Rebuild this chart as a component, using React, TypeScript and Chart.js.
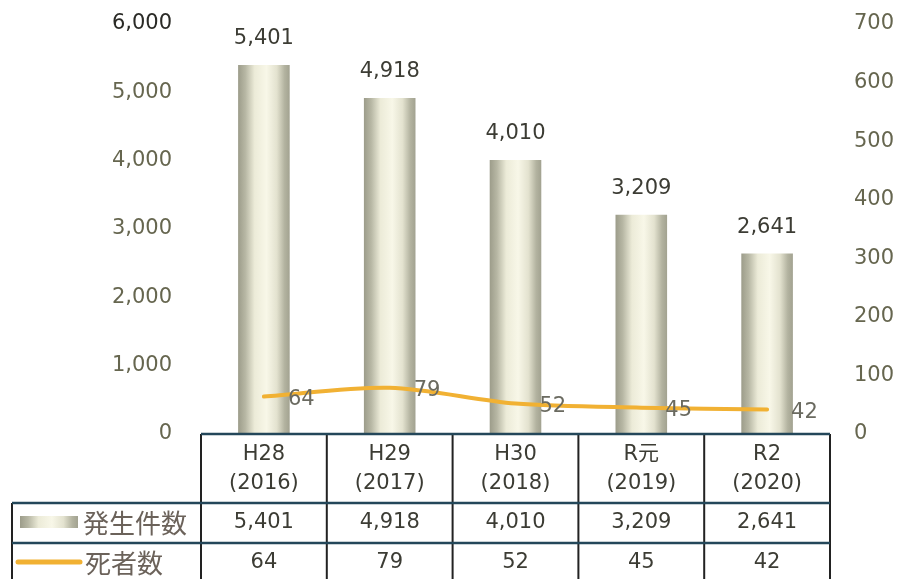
import { useEffect, useRef } from 'react';
import { Chart, registerables } from 'chart.js';

Chart.register(...registerables);

// ---- data ----
const categoryEra = ['H28', 'H29', 'H30', 'R元', 'R2'];
const categoryYear = ['(2016)', '(2017)', '(2018)', '(2019)', '(2020)'];
const incidents = [5401, 4918, 4010, 3209, 2641];
const deaths = [64, 79, 52, 45, 42];
const seriesNames = ['発生件数', '死者数'];
const leftAxis = { min: 0, max: 6000, step: 1000 };
const rightAxis = { min: 0, max: 700, step: 100 };

const FONT = '"DejaVu Sans", "Noto Sans CJK JP", sans-serif';
const CJK = '"Noto Sans CJK JP", sans-serif';
const BAR_FRAC = 0.41;
const LINE_COLOR = '#f1b133';

const fmt = (v: number) => v.toLocaleString('en-US');

function barGradient(ctx: CanvasRenderingContext2D, x0: number, x1: number) {
  const g = ctx.createLinearGradient(x0, 0, x1, 0);
  g.addColorStop(0, '#9c9c8a');
  g.addColorStop(0.14, '#b7b7a4');
  g.addColorStop(0.32, '#ecebd8');
  g.addColorStop(0.55, '#f8f7e8');
  g.addColorStop(0.75, '#e3e2cf');
  g.addColorStop(0.9, '#b3b3a0');
  g.addColorStop(1, '#a2a290');
  return g;
}

const labelsPlugin = {
  id: 'valueLabels',
  afterDatasetsDraw(chart: any) {
    const ctx = chart.ctx as CanvasRenderingContext2D;
    ctx.save();
    ctx.font = `21px ${FONT}`;
    ctx.textBaseline = 'middle';
    const barMeta = chart.getDatasetMeta(0);
    ctx.textAlign = 'center';
    ctx.fillStyle = '#3c3c34';
    barMeta.data.forEach((el: any, i: number) => {
      ctx.fillText(fmt(incidents[i]), el.x, el.y - 26);
    });
    const lineMeta = chart.getDatasetMeta(1);
    ctx.textAlign = 'left';
    ctx.fillStyle = '#6a6a60';
    lineMeta.data.forEach((el: any, i: number) => {
      ctx.fillText(String(deaths[i]), el.x + 24, el.y + 3);
    });
    ctx.restore();
  },
};

const tablePlugin = {
  id: 'dataTable',
  afterDraw(chart: any) {
    const ctx = chart.ctx as CanvasRenderingContext2D;
    const area = chart.chartArea;
    const xs = chart.scales.x;
    const n = categoryEra.length;
    const band = (area.right - area.left) / n;
    const top = area.bottom;
    const headerBottom = top + 69;
    const row1Bottom = headerBottom + 40;
    const bottom = chart.height + 5;
    const legendLeft = 12;

    ctx.save();
    // vertical lines
    ctx.strokeStyle = '#222';
    ctx.lineWidth = 2;
    ctx.beginPath();
    for (let i = 0; i <= n; i++) {
      const x = area.left + band * i;
      ctx.moveTo(x, top);
      ctx.lineTo(x, bottom);
    }
    ctx.moveTo(legendLeft, headerBottom);
    ctx.lineTo(legendLeft, bottom);
    ctx.stroke();
    // horizontal lines
    ctx.strokeStyle = '#24475a';
    ctx.lineWidth = 2.5;
    ctx.beginPath();
    ctx.moveTo(area.left, top);
    ctx.lineTo(area.right, top);
    ctx.moveTo(legendLeft, headerBottom);
    ctx.lineTo(area.right, headerBottom);
    ctx.moveTo(legendLeft, row1Bottom);
    ctx.lineTo(area.right, row1Bottom);
    ctx.stroke();

    // header + values
    ctx.font = `21px ${FONT}`;
    ctx.textAlign = 'center';
    ctx.textBaseline = 'middle';
    ctx.fillStyle = '#3c3c34';
    for (let i = 0; i < n; i++) {
      const cx = xs.getPixelForValue(i);
      ctx.fillText(categoryEra[i], cx, top + 21);
      ctx.fillText(categoryYear[i], cx, top + 50);
      ctx.fillText(fmt(incidents[i]), cx, headerBottom + 20);
      ctx.fillText(String(deaths[i]), cx, row1Bottom + 20);
    }

    // legend keys
    const y1 = headerBottom + 19;
    ctx.fillStyle = barGradient(ctx, 20, 78);
    ctx.fillRect(20, y1 - 6, 58, 12);
    const y2 = row1Bottom + 19;
    ctx.strokeStyle = LINE_COLOR;
    ctx.lineWidth = 5;
    ctx.lineCap = 'round';
    ctx.beginPath();
    ctx.moveTo(18, y2);
    ctx.lineTo(80, y2);
    ctx.stroke();

    ctx.font = `26px ${CJK}`;
    ctx.textAlign = 'left';
    ctx.fillStyle = '#6b625a';
    ctx.fillText(seriesNames[0], 83, y1 + 1);
    ctx.fillText(seriesNames[1], 85, y2 + 1);
    ctx.restore();
  },
};

export default function App() {
  const ref = useRef<HTMLCanvasElement>(null);

  useEffect(() => {
    if (!ref.current) return;
    const chart = new Chart(ref.current, {
      type: 'bar',
      data: {
        labels: categoryEra,
        datasets: [
          {
            type: 'bar',
            label: seriesNames[0],
            data: incidents,
            yAxisID: 'y',
            order: 2,
            barPercentage: BAR_FRAC,
            categoryPercentage: 1,
            borderWidth: 0,
            backgroundColor: (c: any) => {
              const ch = c.chart;
              const xs = ch.scales?.x;
              if (!xs || c.dataIndex === undefined || !ch.chartArea) return '#e6e5d2';
              const cx = xs.getPixelForValue(c.dataIndex);
              const w = ((ch.chartArea.right - ch.chartArea.left) / categoryEra.length) * BAR_FRAC;
              return barGradient(ch.ctx, cx - w / 2, cx + w / 2);
            },
          } as any,
          {
            type: 'line',
            label: seriesNames[1],
            data: deaths,
            yAxisID: 'y1',
            order: 1,
            borderColor: LINE_COLOR,
            borderWidth: 4,
            borderCapStyle: 'round',
            pointRadius: 0,
            tension: 0.3,
            fill: false,
          } as any,
        ],
      },
      options: {
        responsive: false,
        animation: false,
        devicePixelRatio: 1,
        layout: { padding: { top: 24, bottom: 145, left: 0, right: 0 } },
        plugins: {
          legend: { display: false },
          tooltip: { enabled: false },
          title: { display: false },
        },
        scales: {
          x: {
            display: false,
            offset: true,
            grid: { display: false },
          },
          y: {
            position: 'left',
            min: leftAxis.min,
            max: leftAxis.max,
            grid: { display: false, drawTicks: false },
            border: { display: false },
            ticks: {
              stepSize: leftAxis.step,
              padding: 29,
              font: { family: FONT, size: 21 },
              color: (c: any) => (c.tick && c.tick.value === leftAxis.max ? '#2a2a26' : '#66664f'),
              callback: (v: any) => fmt(Number(v)),
            },
            afterFit: (s: any) => {
              s.width = 201;
              s.paddingTop = 0;
              s.paddingBottom = 0;
            },
          },
          y1: {
            position: 'right',
            min: rightAxis.min,
            max: rightAxis.max,
            grid: { display: false, drawTicks: false },
            border: { display: false },
            ticks: {
              stepSize: rightAxis.step,
              padding: 24,
              font: { family: FONT, size: 21 },
              color: '#66664f',
              callback: (v: any) => String(v),
            },
            afterFit: (s: any) => {
              s.width = 68;
              s.paddingTop = 0;
              s.paddingBottom = 0;
            },
          },
        },
      },
      plugins: [labelsPlugin, tablePlugin],
    });
    return () => chart.destroy();
  }, []);

  return (
    <div style={{ position: 'fixed', left: 0, top: 0, width: 898, height: 579, background: '#fff' }}>
      <canvas ref={ref} width={898} height={579} style={{ display: 'block' }} />
    </div>
  );
}
